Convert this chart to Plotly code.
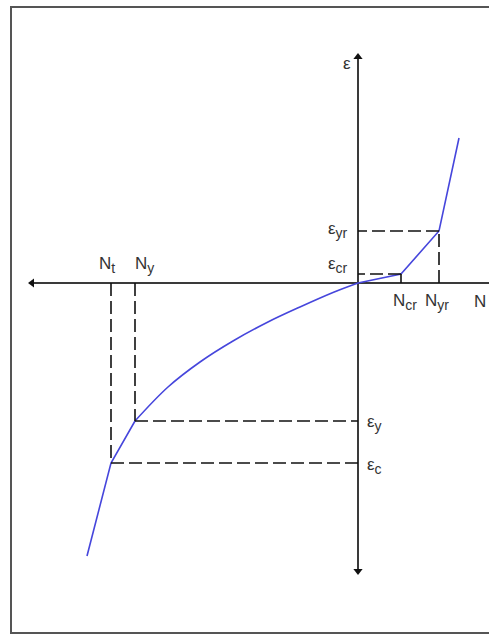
import plotly.graph_objects as go

# Axial load N vs. strain ε for a member in tension (left) and compression (right)
# Characteristic points on the N–ε curve
key_names = ["Nt", "Ny", "Ncr", "Nyr"]
key_N = [-24.7, -22.3, 4.3, 8.1]
key_eps = [-18.0, -13.8, 0.9, 5.2]

# Curve end points
end_N = [-27.1, 10.1]
end_eps = [-27.3, 14.5]

# Curved branch between Ny and the origin
curve_N = [-22.3, -19.0, -15.8, -12.5, -9.1, -5.8, -2.5, 0.0]
curve_eps = [-13.8, -10.4, -7.9, -5.8, -3.95, -2.4, -0.95, 0.0]

BLUE = "#4646dc"
AXIS = "#3a3a3a"
DASH = "#111111"

fig = go.Figure()

# Straight branch below Ny: end -> Nt -> Ny
fig.add_trace(go.Scatter(
    x=[end_N[0], key_N[0], key_N[1]], y=[end_eps[0], key_eps[0], key_eps[1]],
    mode="lines", line=dict(color=BLUE, width=1.6), hoverinfo="skip"))
# Curved branch Ny -> origin
fig.add_trace(go.Scatter(
    x=curve_N, y=curve_eps, mode="lines",
    line=dict(color=BLUE, width=1.6, shape="spline", smoothing=1.0), hoverinfo="skip"))
# Branch origin -> Ncr -> Nyr -> end
fig.add_trace(go.Scatter(
    x=[0.0, key_N[2], key_N[3], end_N[1]], y=[0.0, key_eps[2], key_eps[3], end_eps[1]],
    mode="lines", line=dict(color=BLUE, width=1.6), hoverinfo="skip"))

# Axes with arrowheads
X_LEFT, X_RIGHT = -32.6, 13.6
Y_BOTTOM, Y_TOP = -28.8, 22.6
fig.add_shape(type="line", x0=X_LEFT, x1=X_RIGHT, y0=0, y1=0,
              line=dict(color=AXIS, width=2), layer="below")
fig.add_shape(type="line", x0=0, x1=0, y0=Y_BOTTOM, y1=Y_TOP,
              line=dict(color=AXIS, width=2), layer="below")
fig.add_trace(go.Scatter(x=[0], y=[Y_TOP], mode="markers",
                         marker=dict(symbol="triangle-up", size=8, color="#111"), hoverinfo="skip"))
fig.add_trace(go.Scatter(x=[0], y=[Y_BOTTOM], mode="markers",
                         marker=dict(symbol="triangle-down", size=8, color="#111"), hoverinfo="skip"))
fig.add_trace(go.Scatter(x=[X_LEFT], y=[0], mode="markers",
                         marker=dict(symbol="triangle-left", size=8, color="#111"), hoverinfo="skip"))

# Projection lines from each characteristic point to both axes
dash_style = dict(color=DASH, width=1.6, dash="13px,5px")
for n, e in zip(key_N, key_eps):
    fig.add_shape(type="line", x0=n, x1=n, y0=0, y1=e, line=dash_style)
    fig.add_shape(type="line", x0=n, x1=0, y0=e, y1=e, line=dash_style)

# Outer frame
fig.add_shape(type="rect", xref="paper", yref="paper",
              x0=11 / 489, x1=1.05, y0=2 / 635, y1=1 - 7 / 635,
              line=dict(color="#555555", width=2), fillcolor="rgba(0,0,0,0)")

FONT = dict(family="Liberation Sans, Arial, sans-serif", size=17, color="#333333")


def sub(main, s):
    return f"{main}<sub><span style='font-size:14px'>{s}</span></sub>"


def label(x, y, text, xanchor="center", yanchor="middle"):
    fig.add_annotation(x=x, y=y, text=text, showarrow=False, font=FONT,
                       xanchor=xanchor, yanchor=yanchor)


# Axis titles
label(-0.5, Y_TOP - 0.6, "ε", xanchor="right")
label(13.0, -0.7, "N", xanchor="right", yanchor="top")

# N labels on the horizontal axis
label(key_N[0] - 0.4, 0.5, sub("N", "t"), yanchor="bottom")
label(key_N[1] + 0.9, 0.5, sub("N", "y"), yanchor="bottom")
label(key_N[2] + 0.4, -0.6, sub("N", "cr"), yanchor="top")
label(key_N[3] - 0.2, -0.6, sub("N", "yr"), yanchor="top")

# ε labels next to the vertical axis
label(-0.8, key_eps[3] + 0.1, sub("ε", "yr"), xanchor="right")
label(-0.8, key_eps[2] + 0.9, sub("ε", "cr"), xanchor="right")
label(0.7, key_eps[1] - 0.2, sub("ε", "y"), xanchor="left")
label(0.7, key_eps[0] - 0.3, sub("ε", "c"), xanchor="left")

fig.update_layout(
    width=489, height=635,
    margin=dict(l=0, r=0, t=0, b=0),
    paper_bgcolor="white", plot_bgcolor="white",
    showlegend=False,
    xaxis=dict(range=[-35.8, 13.1], visible=False, fixedrange=True),
    yaxis=dict(range=[-35.2, 28.3], visible=False, fixedrange=True),
)

fig.write_html("out.html")
